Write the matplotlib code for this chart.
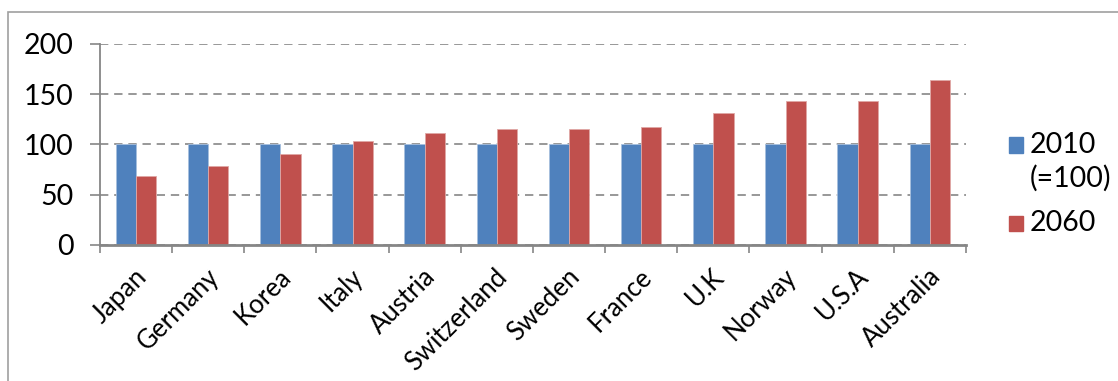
import numpy as np
import matplotlib.pyplot as plt
from matplotlib.patches import Rectangle
import matplotlib.transforms as mtransforms

plt.rcParams['font.family'] = ['Lato', 'DejaVu Sans']

# Population index by country (2010 = 100)
countries = ['Japan', 'Germany', 'Korea', 'Italy', 'Austria', 'Switzerland',
             'Sweden', 'France', 'U.K', 'Norway', 'U.S.A', 'Australia']
values_2010 = [100, 100, 100, 100, 100, 100, 100, 100, 100, 100, 100, 100]
values_2060 = [69, 79, 90, 103, 111, 115, 115, 117, 131, 143, 143, 164]
legend_labels = ['2010', '(=100)', '2060']

blue = '#4F81BD'
red = '#C0504D'
axis_grey = '#868686'

fig = plt.figure(figsize=(11.18, 3.81), dpi=100)
ax = fig.add_axes([0.0894, 0.357, 0.7746, 0.528])

x = np.arange(len(countries))
w = 0.28
ax.bar(x - w / 2, values_2010, w, color=blue, edgecolor='#a7bfde', linewidth=0.6, zorder=3)
ax.bar(x + w / 2, values_2060, w, color=red, edgecolor='#e0a8a6', linewidth=0.6, zorder=3)

ax.set_xlim(-0.5, len(countries) - 0.5)
ax.set_ylim(0, 200)
ax.set_yticks([0, 50, 100, 150, 200])
ax.yaxis.grid(True, linestyle=(0, (5, 3.5)), color=axis_grey, linewidth=1.2, zorder=0)

for side in ['top', 'right']:
    ax.spines[side].set_visible(False)
ax.spines['left'].set_color(axis_grey)
ax.spines['left'].set_linewidth(1.3)
ax.spines['bottom'].set_color(axis_grey)
ax.spines['bottom'].set_linewidth(2.0)
ax.spines['bottom'].set_zorder(4)

ax.tick_params(axis='y', direction='out', length=7, width=1.2, color=axis_grey,
               pad=12, labelsize=20.5)

# category labels at centres, tick marks between categories
ax.set_xticks(x)
ax.set_xticks(np.arange(len(countries) + 1) - 0.5, minor=True)
ax.tick_params(axis='x', which='minor', direction='out', length=6, width=1.2, color=axis_grey)
ax.tick_params(axis='x', which='major', length=0, pad=20)
ax.set_xticklabels(countries, rotation=45, ha='right', va='center',
                   rotation_mode='anchor', fontsize=18.5)
offset = mtransforms.ScaledTranslation(7 / 100, 0, fig.dpi_scale_trans)
for lbl in ax.get_xticklabels():
    lbl.set_transform(lbl.get_transform() + offset)

# legend drawn in figure pixels
W, H = 1118, 381
def fx(px):
    return px / W
def fy(py):
    return 1 - py / H

fig.patches.append(Rectangle((fx(1009), fy(153)), 14 / W, 16 / H, color=blue,
                             transform=fig.transFigure, figure=fig))
fig.patches.append(Rectangle((fx(1009), fy(231)), 14 / W, 15 / H, color=red,
                             transform=fig.transFigure, figure=fig))
fig.text(fx(1030), fy(153), legend_labels[0], fontsize=20.5, va='baseline')
fig.text(fx(1030), fy(187), legend_labels[1], fontsize=20.5, va='baseline')
fig.text(fx(1030), fy(231), legend_labels[2], fontsize=20.5, va='baseline')

# chart frame
fig.patches.append(Rectangle((fx(8), -0.1), 1.2, fy(12) + 0.1, fill=False,
                             edgecolor='#a0a0a0', linewidth=1.2,
                             transform=fig.transFigure, figure=fig))

fig.savefig('out.png', dpi=100)
